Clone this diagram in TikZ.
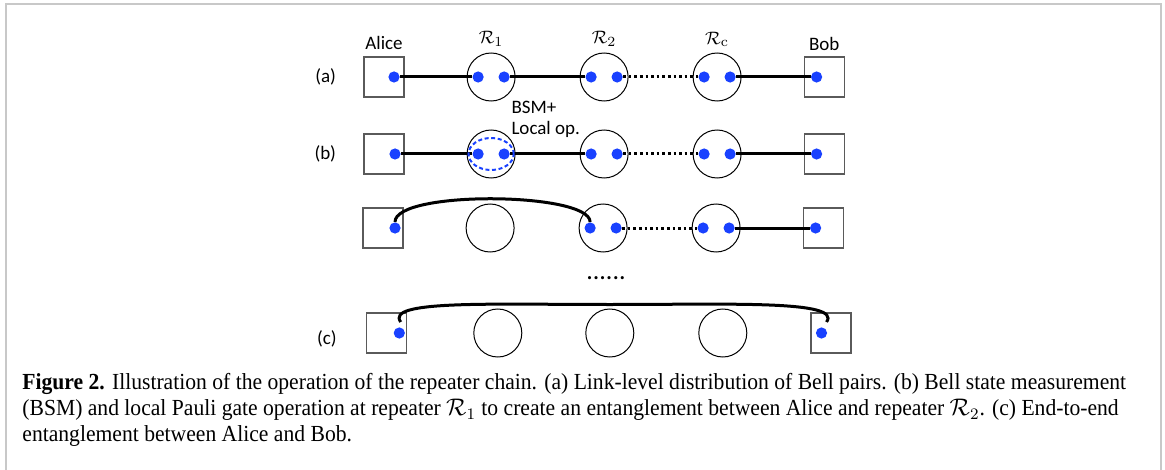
\documentclass[tikz,border=0pt]{standalone}
\usepackage[no-math]{fontspec}
\setmainfont{Carlito}
\newfontfamily\capfont{Liberation Serif}[FakeStretch=0.94]
\usepackage{xcolor}
\usepackage{tikz}
\usetikzlibrary{positioning, calc}
\definecolor{QubitBlue}{RGB}{25,65,255}
\definecolor{FrameGray}{RGB}{200,200,200}
\definecolor{BoxGray}{RGB}{90,90,90}

\begin{document}
\begin{tikzpicture}[
    x=0.5pt, y=-0.5pt,
    station/.style={draw=BoxGray, line width=0.6pt, minimum size=20pt, inner sep=0pt},
    repeater/.style={draw, circle, line width=0.5pt, minimum size=24pt, inner sep=0pt},
    qubit/.style={circle, fill=QubitBlue, minimum size=5.6pt, inner sep=0pt},
    link/.style={line width=1.5pt},
    dlink/.style={line width=1.5pt, dash pattern=on 1.3pt off 1.5pt},
    tag/.style={inner sep=0pt, font=\fontsize{9.5}{10.5}\selectfont},
    node distance=32pt,
]
\useasboundingbox (0,0) rectangle (1165,470);
\draw[FrameGray, line width=1pt] (6,470) |- (1161,4) -- (1161,470);

% (a) link-level Bell pairs
\node[station] (aA) at (384,77) {};
\node[repeater, right=31pt of aA] (aR1) {};
\node[repeater, right=of aR1] (aR2) {};
\node[repeater, right=of aR2] (aRc) {};
\node[station, right=31pt of aRc] (aB) {};

% (b) BSM at R1
\node[station] (bA) at (384,154) {};
\node[repeater, right=31pt of bA] (bR1) {};
\node[repeater, right=of bR1] (bR2) {};
\node[repeater, right=of bR2] (bRc) {};
\node[station, right=31pt of bRc] (bB) {};

% after swapping at R1
\node[station] (tA) at (383,228) {};
\node[repeater, right=31pt of tA] (tR1) {};
\node[repeater, right=of tR1] (tR2) {};
\node[repeater, right=of tR2] (tRc) {};
\node[station, right=31pt of tRc] (tB) {};

% (c) end-to-end
\node[station] (cA) at (386.7,333) {};
\node[repeater, right=33pt of cA] (cR1) {};
\node[repeater, right=31.5pt of cR1] (cR2) {};
\node[repeater, right=32pt of cR2] (cRc) {};
\node[station, right=31.5pt of cRc] (cB) {};

% qubits
\foreach \r in {aR1,aR2,aRc,bR1,bR2,bRc,tR2,tRc} {
  \node[qubit] (\r-l) at ([xshift=-6.5pt]\r.center) {};
  \node[qubit] (\r-r) at ([xshift=6.5pt]\r.center) {};
}
\node[qubit] (aAq) at ([xshift=5pt]aA.center) {};
\node[qubit] (aBq) at ([xshift=-3.8pt]aB.center) {};
\node[qubit] (bAq) at ([xshift=5.5pt]bA.center) {};
\node[qubit] (bBq) at ([xshift=-3.8pt]bB.center) {};
\node[qubit] (tAq) at ([xshift=6pt]tA.center) {};
\node[qubit] (tBq) at ([xshift=-3.8pt]tB.center) {};
\node[qubit] (cAq) at ([xshift=6.3pt]cA.center) {};
\node[qubit] (cBq) at ([xshift=-4.7pt]cB.center) {};

% links
\draw[link] (aAq) -- (aR1-l);
\draw[link] (aR1-r) -- (aR2-l);
\draw[dlink] (aR2-r) -- (aRc-l);
\draw[link] (aRc-r) -- (aBq);

\draw[link] (bAq) -- (bR1-l);
\draw[link] (bR1-r) -- (bR2-l);
\draw[dlink] (bR2-r) -- (bRc-l);
\draw[link] (bRc-r) -- (bBq);
\draw[QubitBlue, line width=1pt, dash pattern=on 2pt off 1.3pt] (bR1) ellipse [x radius=11.3pt, y radius=8pt];

\draw[link] (tAq.north) .. controls +(0,-32) and +(0,-30) .. (tR2-l.north);
\draw[dlink] (tR2-r) -- (tRc-l);
\draw[link] (tRc-r) -- (tBq);

\coordinate (cTop) at ([yshift=2pt]cR2.north);
\draw[link] ([xshift=0.7pt,yshift=2.5pt]cAq.north) .. controls +(-16,-22) and +(-120,0) .. (cTop)
  .. controls +(120,0) and +(16,-22) .. ([xshift=2.5pt,yshift=2.5pt]cBq.north);

% labels
\node[tag, above=3pt of aA] (alice) {Alice};
\node[tag, above=3pt of aR1] (r1) {$\mathcal{R}_1$};
\node[tag, above=3pt of aR2] (r2) {$\mathcal{R}_2$};
\node[tag, above=3pt of aRc] (rc) {$\mathcal{R}_\mathrm{c}$};
\node[tag, above=2.5pt of aB] (bob) {Bob};
\node[tag, left=13.5pt of aA] (la) {(a)};
\node[tag, left=13.5pt of bA] (lb) {(b)};
\node[tag, left=14.5pt of cA, yshift=-3pt] (lc) {(c)};
\node[tag, align=left, anchor=north west] (bsm) at ([xshift=10pt, yshift=14.5pt]bR1.north) {BSM+\\Local op.};
\node[tag, font=\fontsize{13}{13}\selectfont] (more) at (606,278) {......};

\node[anchor=north west, align=left, inner sep=0pt, font=\capfont\fontsize{11.5}{13}\selectfont] (caption) at (22,373)
  {\textbf{Figure 2.} Illustration of the operation of the repeater chain. (a) Link-level distribution of Bell pairs. (b) Bell state measurement\\
   (BSM) and local Pauli gate operation at repeater $\mathcal{R}_1$ to create an entanglement between Alice and repeater $\mathcal{R}_2$. (c) End-to-end\\
   entanglement between Alice and Bob.};
\end{tikzpicture}
\end{document}
